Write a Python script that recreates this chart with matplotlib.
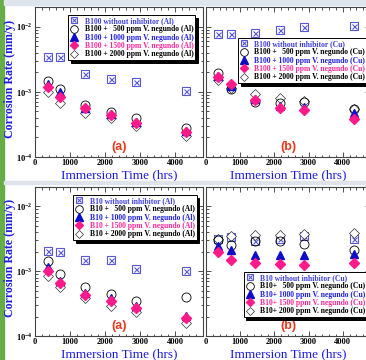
import math
import matplotlib
matplotlib.use('Agg')
import matplotlib.pyplot as plt
from matplotlib.ticker import MultipleLocator, LogLocator, FuncFormatter, NullFormatter
from matplotlib.patches import Rectangle
from matplotlib.legend_handler import HandlerTuple

plt.rcParams['font.family'] = 'Liberation Serif'
plt.rcParams['font.weight'] = 'bold'
plt.rcParams['mathtext.fontset'] = 'custom'
plt.rcParams['mathtext.rm'] = 'Liberation Serif:bold'
plt.rcParams['mathtext.bf'] = 'Liberation Serif:bold'

# immersion times (hrs)
hours = [360, 720, 1440, 2160, 2880, 4320]

# B100 biodiesel, aluminium coupons (mm/y)
b100_al_blank = [3.4e-3, 3.4e-3, 1.9e-3, 1.6e-3, 1.42e-3, 1.04e-3]
b100_al_500 = [1.48e-3, 1.10e-3, 6.3e-4, 4.9e-4, 3.9e-4, 2.8e-4]
b100_al_1000 = [1.34e-3, 1.01e-3, 5.7e-4, 4.5e-4, 3.5e-4, 2.5e-4]
b100_al_1500 = [1.19e-3, 8.2e-4, 5.6e-4, 4.4e-4, 3.3e-4, 2.4e-4]
b100_al_2000 = [9.8e-4, 6.8e-4, 4.65e-4, 3.9e-4, 3.0e-4, 2.1e-4]

# B100 biodiesel, copper coupons
b100_cu_blank = [7.7e-3, 7.7e-3, 8.0e-3, 8.9e-3, 1.0e-2, 1.01e-2]
b100_cu_500 = [1.96e-3, 1.10e-3, 7.0e-4, 6.85e-4, 6.9e-4, 5.4e-4]
b100_cu_1000 = [1.76e-3, 1.24e-3, 7.8e-4, 6.1e-4, 5.9e-4, 4.65e-4]
b100_cu_1500 = [1.70e-3, 1.31e-3, 7.45e-4, 5.6e-4, 5.2e-4, 3.8e-4]
b100_cu_2000 = [1.53e-3, 1.16e-3, 9.2e-4, 8.0e-4, 7.3e-4, 5.4e-4]

# B10 blend, aluminium coupons
b10_al_blank = [2.08e-3, 1.98e-3, 1.48e-3, 1.48e-3, 1.10e-3, 1.0e-3]
b10_al_500 = [1.42e-3, 9.1e-4, 5.7e-4, 4.48e-4, 3.45e-4, 4.0e-4]
b10_al_1000 = [1.15e-3, 7.0e-4, 4.65e-4, 3.8e-4, 2.9e-4, 2.03e-4]
b10_al_1500 = [1.02e-3, 6.6e-4, 4.27e-4, 3.45e-4, 2.67e-4, 1.91e-4]
b10_al_2000 = [8.4e-4, 5.7e-4, 3.8e-4, 2.9e-4, 2.37e-4, 1.6e-4]

# B10 blend, copper coupons
b10_cu_blank = [3.19e-3, 3.34e-3, 2.9e-3, 3.19e-3, 3.45e-3, 3.19e-3]
b10_cu_500 = [3.07e-3, 2.57e-3, 2.96e-3, 2.96e-3, 2.6e-3, 2.15e-3]
b10_cu_1000 = [2.43e-3, 2.15e-3, 1.8e-3, 1.76e-3, 1.76e-3, 1.85e-3]
b10_cu_1500 = [1.98e-3, 1.51e-3, 1.34e-3, 1.31e-3, 1.24e-3, 1.34e-3]
b10_cu_2000 = [3.19e-3, 3.45e-3, 3.67e-3, 3.67e-3, 3.75e-3, 3.88e-3]

doses = ['   500', ' 1000', ' 1500', ' 2000']

c_blank = '#5656d6'
c_1000 = '#0d0dc8'
c_1500 = '#ff1a8c'
text_colors = ['#4040dd', 'black', '#2020dd', '#ff2a9a', 'black']
label_blue = '#1c1ce6'
tag_red = '#e63a1e'


def legend_labels(blend, sep, metal):
    labels = [f'{blend} without inhibitor ({metal})']
    for d in doses:
        labels.append(f'{blend}{sep}{d} ppm V. negundo ({metal})')
    return labels


def power_label(v, pos):
    return r'$10^{%d}$' % round(math.log10(v))


def draw_panel(ax, series, labels, anchor, tag):
    blank, s500, s1000, s1500, s2000 = series
    h_sq, = ax.plot(hours, blank, ls='none', marker='s', ms=5.2, mfc='none',
                    mec=c_blank, mew=0.8)
    h_x, = ax.plot(hours, blank, ls='none', marker='x', ms=3.6, mec=c_blank, mew=0.8)
    h4, = ax.plot(hours, s2000, ls='none', marker='D', ms=5.2, mfc='white',
                  mec='#333333', mew=0.5)
    h1, = ax.plot(hours, s500, ls='none', marker='o', ms=6.5, mfc='none',
                  mec='black', mew=0.6)
    h2, = ax.plot(hours, s1000, ls='none', marker='^', ms=6, color=c_1000)
    h3, = ax.plot(hours, s1500, ls='none', marker='D', ms=4.6, color=c_1500)

    ax.set_yscale('log')
    ax.set_xlim(0, 4800)
    ax.set_ylim(1e-4, 2e-2)
    ax.xaxis.set_major_locator(MultipleLocator(1000))
    ax.xaxis.set_minor_locator(MultipleLocator(200))
    ax.yaxis.set_major_locator(LogLocator(base=10))
    ax.yaxis.set_minor_locator(LogLocator(base=10, subs=range(2, 10)))
    ax.yaxis.set_minor_formatter(NullFormatter())
    ax.yaxis.set_major_formatter(FuncFormatter(power_label))
    ax.tick_params(which='both', direction='in', top=True, right=True,
                   labelsize=6, pad=1.5, width=0.6, colors='#333333')
    ax.tick_params(which='major', length=3.5)
    ax.tick_params(which='minor', length=1.8)
    for lbl in ax.get_xticklabels() + ax.get_yticklabels():
        lbl.set_color('black')
    for sp in ax.spines.values():
        sp.set_color('#444444')
        sp.set_linewidth(0.8)

    ax.set_xlabel('Immersion Time (hrs)', color=label_blue, fontsize=9.5, labelpad=1.5)

    ax.text(0.5, 0.025, tag, transform=ax.transAxes, ha='center', va='bottom',
            color=tag_red, fontsize=9, family='Liberation Sans', weight='bold')

    leg = ax.legend([(h_sq, h_x), h1, h2, h3, h4], labels,
                    handler_map={tuple: HandlerTuple(ndivide=1)},
                    loc='upper left', bbox_to_anchor=anchor, borderaxespad=0,
                    fontsize=5.5, fancybox=False, edgecolor='black', framealpha=1,
                    shadow={'color': 'black', 'alpha': 1},
                    handlelength=1.1, handletextpad=0.8, labelspacing=0.05,
                    borderpad=0.25, markerscale=0.85)
    leg.get_frame().set_linewidth(0.7)
    for t, c in zip(leg.get_texts(), text_colors):
        t.set_color(c)


fig = plt.figure(figsize=(3.66, 3.6), dpi=100)
W, H = 366.0, 360.0

# page decoration: green margin and grey separator bands
fig.patches.append(Rectangle((0, 0), 4 / W, 1, transform=fig.transFigure,
                             color='#67ad47', zorder=0))
fig.patches.append(Rectangle((4 / W, 1 - 5 / H), 1, 5 / H, transform=fig.transFigure,
                             color='#dfe3ea', zorder=0))
fig.patches.append(Rectangle((4 / W, 1 - 184 / H), 1, 3 / H, transform=fig.transFigure,
                             color='#dfe3ea', zorder=0))


def axes_at(x0, x1, y0, y1):
    return fig.add_axes([x0 / W, 1 - y1 / H, (x1 - x0) / W, (y1 - y0) / H])


ax_tl = axes_at(35, 203, 7, 157)
ax_tr = axes_at(206, 370, 7, 157)
ax_bl = axes_at(35, 203, 187, 336)
ax_br = axes_at(206, 370, 187, 336)

draw_panel(ax_tl, [b100_al_blank, b100_al_500, b100_al_1000, b100_al_1500, b100_al_2000],
           legend_labels('B100', ' +', 'Al'), (0.198, 0.947), '(a)')
draw_panel(ax_tr, [b100_cu_blank, b100_cu_500, b100_cu_1000, b100_cu_1500, b100_cu_2000],
           legend_labels('B100', ' +', 'Cu'), (0.194, 0.793), '(b)')
draw_panel(ax_bl, [b10_al_blank, b10_al_500, b10_al_1000, b10_al_1500, b10_al_2000],
           legend_labels('B10', ' +', 'Al'), (0.228, 0.946), '(a)')
draw_panel(ax_br, [b10_cu_blank, b10_cu_500, b10_cu_1000, b10_cu_1500, b10_cu_2000],
           legend_labels('B10', '+', 'Cu'), (0.23, 0.43), '(b)')

for ax in (ax_tr, ax_br):
    ax.tick_params(labelleft=False)

# shared y title for each row, placed in the left margin
for yc in (78.5, 258):
    fig.text(10.5 / W, 1 - yc / H, 'Corrosion Rate (mm/y)', rotation=90,
             ha='center', va='center', color=label_blue, fontsize=8.6)

fig.savefig('out.png', dpi=100)
